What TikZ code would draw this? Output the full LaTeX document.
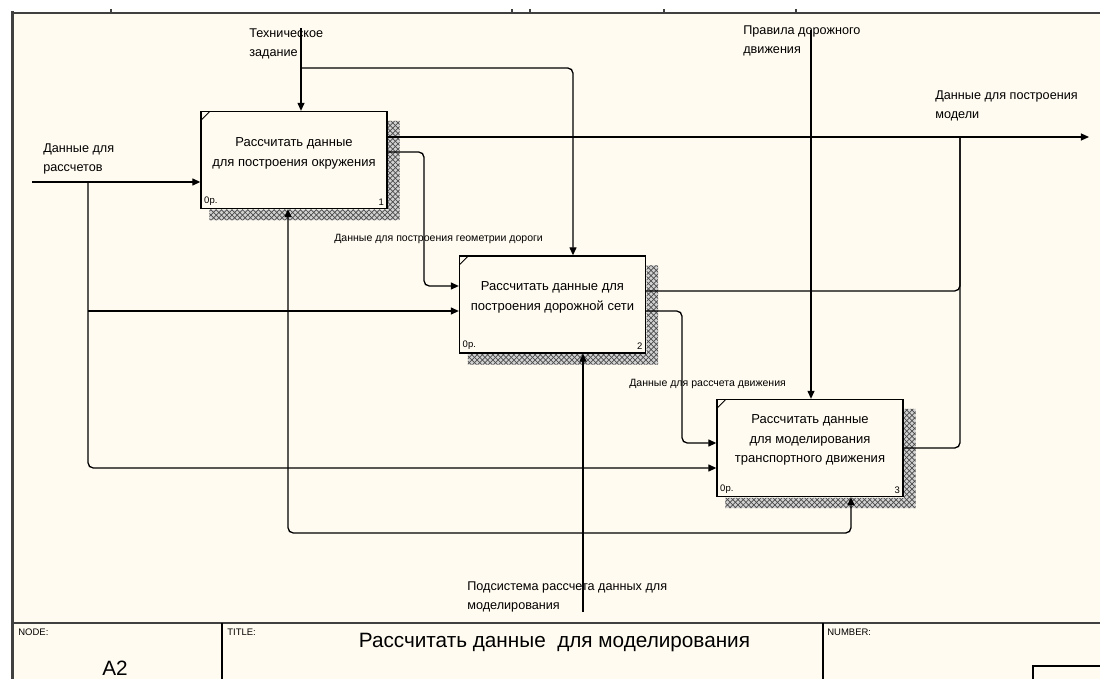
\documentclass[tikz,border=0pt]{standalone}
\usepackage{fontspec}
\setmainfont{Liberation Sans}
\usetikzlibrary{
arrows.meta,
positioning,
calc,
patterns
}
\definecolor{paper}{HTML}{FFFBF0}
\definecolor{frame}{HTML}{404040}

% hatched shadow on the right and lower side of a function box
\newcommand{\boxshadow}[1]{%
\fill[black!18]
($(#1.north east)+(0.6,10)$) -- ($(#1.north east)+(12,10)$)
-- ($(#1.south east)+(12,11)$) -- ($(#1.south west)+(9,11)$)
-- ($(#1.south west)+(9,0.6)$) -- ($(#1.south east)+(0.6,0.6)$) -- cycle;
\fill[pattern=crosshatch, pattern color=black!70]
($(#1.north east)+(0.6,10)$) -- ($(#1.north east)+(12,10)$)
-- ($(#1.south east)+(12,11)$) -- ($(#1.south west)+(9,11)$)
-- ($(#1.south west)+(9,0.6)$) -- ($(#1.south east)+(0.6,0.6)$) -- cycle;
\draw[line width=0.5pt] ($(#1.north west)+(1,9)$) -- ($(#1.north west)+(9,1)$);}

\begin{document}
\begin{tikzpicture}[
x=0.02cm, y=-0.02cm,
font=\fontsize{7.2}{10.8}\selectfont,
func/.style={
rectangle,
draw,
line width=0.75pt,
fill=paper,
minimum width=3.72cm,
minimum height=1.94cm,
inner sep=0pt
},
functext/.style={align=center, inner sep=0pt, font=\fontsize{7.4}{11.3}\selectfont},
tag/.style={inner sep=2pt, font=\fontsize{5.4}{6}\selectfont},
lbl/.style={align=left, inner sep=0pt, anchor=west},
small/.style={inner sep=0pt, anchor=west, font=\fontsize{6}{7}\selectfont},
wire/.style={line width=0.75pt, rounded corners=3pt},
arrow/.style={wire, -{Triangle[length=4.6pt,width=4pt]}}
]

\useasboundingbox (0,0) rectangle (1100,679);
\fill[paper] (13,13) rectangle (1100,679);
\draw[frame, line width=0.75pt] (13,13) -- (1100,13);
\draw[frame, line width=1.6pt] (12.5,11) -- (12.5,679);
\foreach \t in {111,512,530,664,796}
\draw[frame, line width=0.6pt] (\t,9) -- (\t,13);

% function boxes
\node[func, label={[tag,anchor=south west]south west:0р.}, label={[tag,anchor=south east]south east:1}] (b1) at (294,160) {};
\node[func, label={[tag,anchor=south west]south west:0р.}, label={[tag,anchor=south east]south east:2}] (b2) at (552.5,304.5) {};
\node[func, label={[tag,anchor=south west]south west:0р.}, label={[tag,anchor=south east]south east:3}] (b3) at (810,448) {};
\boxshadow{b1}
\boxshadow{b2}
\boxshadow{b3}

\node[functext] (t1) at ($(b1)+(0,-7)$) {Рассчитать данные\\для построения окружения};
\node[functext] (t2) at ($(b2)+(0,-7)$) {Рассчитать данные для\\построения дорожной сети};
\node[functext] (t3) at ($(b3)+(0,-8)$) {Рассчитать данные\\для моделирования\\транспортного движения};

% inputs
\coordinate (in) at (32,182);
\coordinate (j1) at (88,182);
\coordinate (j2) at (88,311);
\coordinate (j3) at (88,468);
\draw[arrow] (in) -- (in -| b1.west);
\draw[arrow] (j1) -- (j3) -- (j3 -| b3.west);
\draw[arrow] (j2) -- (j2 -| b2.west);

% controls
\coordinate (tz) at (301,28);
\coordinate (tzb) at (301,68);
\coordinate (tzc) at (573,68);
\draw[arrow] (tz) -- (tz |- b1.north);
\draw[arrow] (tzb) -- (tzc) -- (tzc |- b2.north);
\coordinate (pdd) at (811,30);
\draw[arrow] (pdd) -- (pdd |- b3.north);

% outputs
\coordinate (out) at (1089,137);
\coordinate (oj) at (960,137);
\coordinate (o2) at (960,291);
\draw[arrow] (out -| b1.east) -- (out);
\draw[wire] (b3.east) -| (oj);
\draw[wire] (o2 -| b2.east) -| (oj);

% box to box
\coordinate (g1) at (424,152);
\coordinate (g2) at (424,286);
\draw[arrow] (g1 -| b1.east) -- (g1) -- (g2) -- (g2 -| b2.west);
\coordinate (h1) at (682,311);
\coordinate (h2) at (682,443);
\draw[arrow] (h1 -| b2.east) -- (h1) -- (h2) -- (h2 -| b3.west);

% mechanism
\coordinate (ms) at (583,612);
\coordinate (mj) at (583,533);
\coordinate (ml) at (288,533);
\coordinate (mr) at (851,533);
\draw[arrow] (ms) -- (ms |- b2.south);
\draw[arrow] (mj) -- (ml) -- (ml |- b1.south);
\draw[arrow] (mj) -- (mr) -- (mr |- b3.south);

% arrow labels
\node[lbl] (lin) at (43,158.5) {Данные для\\рассчетов};
\node[lbl] (ltz) at (249,43.5) {Техническое\\задание};
\node[lbl] (lpdd) at (743,41) {Правила дорожного\\движения};
\node[lbl] (lout) at (935,105.5) {Данные для построения\\модели};
\node[small] (lgeo) at (334,239) {Данные для построения геометрии дороги};
\node[small] (lmov) at (629,384) {Данные для рассчета движения};
\node[lbl] (lmech) at (467,596.5) {Подсистема рассчета данных для\\моделирования};

% title block
\draw[frame, line width=1.2pt] (13,623) -- (1100,623);
\draw[line width=0.75pt] (222,623) -- (222,679) (823,623) -- (823,679);
\draw[line width=0.75pt] (1033,679) |- (1100,666);
\node[tag, anchor=west, inner sep=0pt] (fnode) at (18,632) {NODE:};
\node[tag, anchor=west, inner sep=0pt] (ftitle) at (227,632) {TITLE:};
\node[tag, anchor=west, inner sep=0pt] (fnumber) at (827,632) {NUMBER:};
\node[font=\fontsize{11.8}{13}\selectfont, inner sep=0pt] (anode) at (115,668) {A2};
\node[font=\fontsize{11.8}{13}\selectfont, inner sep=0pt] (atitle) at (554.5,643) {Рассчитать данные\ \ для моделирования};

\end{tikzpicture}
\end{document}
